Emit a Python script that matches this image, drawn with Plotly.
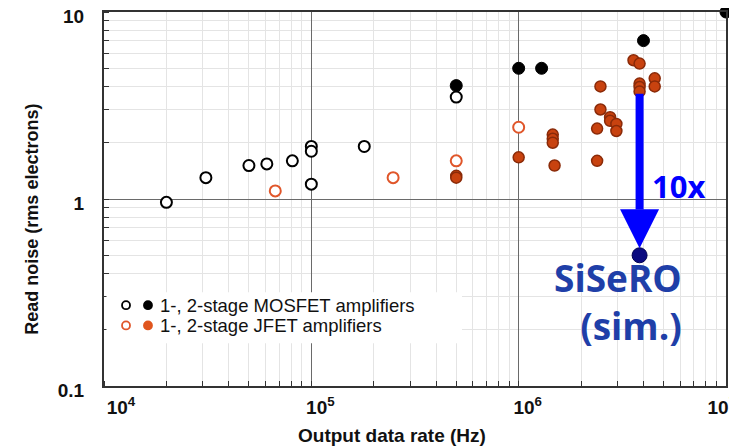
import plotly.graph_objects as go

# ---------------- data ----------------
mos_open_x = [2.0e4, 3.1e4, 5.0e4, 6.1e4, 8.1e4, 1.0e5, 1.0e5, 1.0e5, 1.8e5, 5.0e5]
mos_open_y = [0.96, 1.30, 1.51, 1.54, 1.60, 1.91, 1.80, 1.20, 1.91, 3.51]

mos_fill_x = [5.0e5, 1.0e6, 1.29e6, 4.0e6, 1.0e7]
mos_fill_y = [4.04, 5.0, 5.0, 7.03, 10.0]

jfet_open_x = [6.7e4, 2.48e5, 5.0e5, 1.0e6]
jfet_open_y = [1.105, 1.30, 1.60, 2.42]

jfet_fill_x = [5.0e5, 5.0e5, 1.0e6, 1.46e6, 1.46e6, 1.46e6, 1.49e6, 2.48e6, 2.48e6,
               2.39e6, 2.39e6, 2.76e6, 2.76e6, 2.96e6, 2.96e6, 3.58e6, 3.83e6,
               3.83e6, 3.83e6, 3.83e6, 4.53e6, 4.53e6]
jfet_fill_y = [1.33, 1.30, 1.67, 2.21, 2.10, 2.00, 1.51, 4.0, 3.01,
               2.38, 1.60, 2.74, 2.62, 2.52, 2.31, 5.52, 5.30,
               4.14, 3.97, 3.76, 4.42, 4.0]

sisero_x = [3.83e6]
sisero_y = [0.5]
arrow_top = 3.65          # start of the "10x" arrow (JFET level)
arrow_head_base = 0.88    # where the shaft meets the arrow head

NB = "\u00a0"
x_tickvals = [1e4, 1e5, 1e6, 1e7]
x_ticktext = [NB * 3 + "10<sup>4</sup>", "10<sup>5</sup>", "10<sup>6</sup>", "10<sup>7</sup>" + NB * 5]
y_tickvals = [0.1, 1, 10]
y_ticktext = ["0.1", "1", "10"]

legend_labels = ["1-, 2-stage MOSFET amplifiers", "1-, 2-stage JFET amplifiers"]

# ---------------- styles ----------------
BLACK = "#000000"
RED_OPEN = "#e0562a"
RED_FILL = "#c8420f"
RED_EDGE = "#8a2a08"
NAVY = "#0a0a80"
ARROW_BLUE = "#0000ff"
TEXT_BLUE = "#1f3fa8"
FONT = "Liberation Sans, Arial, sans-serif"
FONT2 = "Open Sans, Noto Sans, sans-serif"

fig = go.Figure()

fig.add_trace(go.Scatter(x=mos_open_x, y=mos_open_y, mode="markers",
                         marker=dict(size=11, color="white", line=dict(color=BLACK, width=2)),
                         showlegend=False))
fig.add_trace(go.Scatter(x=jfet_open_x, y=jfet_open_y, mode="markers",
                         marker=dict(size=11, color="white", line=dict(color=RED_OPEN, width=2)),
                         showlegend=False))
fig.add_trace(go.Scatter(x=jfet_fill_x, y=jfet_fill_y, mode="markers",
                         marker=dict(size=11, color=RED_FILL, line=dict(color=RED_EDGE, width=1.5)),
                         showlegend=False))
fig.add_trace(go.Scatter(x=mos_fill_x, y=mos_fill_y, mode="markers", cliponaxis=False,
                         marker=dict(size=12, color=BLACK, line=dict(color=BLACK, width=1)),
                         showlegend=False))

shapes = []
# arrow shaft
shapes.append(dict(type="line", xref="x", yref="y", x0=sisero_x[0], x1=sisero_x[0],
                   y0=arrow_top, y1=arrow_head_base, line=dict(color=ARROW_BLUE, width=8),
                   layer="above"))
# arrow head (pixel-sized, anchored at the SiSeRO point)
shapes.append(dict(type="path", xref="x", yref="y", xsizemode="pixel", ysizemode="pixel",
                   xanchor=sisero_x[0], yanchor=sisero_y[0],
                   path="M -19.5 46 L 19.5 46 L 0 7 Z",
                   fillcolor=ARROW_BLUE, line=dict(color=ARROW_BLUE, width=0), layer="above"))

# legend background
shapes.append(dict(type="rect", xref="paper", yref="paper", x0=0.004, x1=0.5756, y0=0.1144, y1=0.251,
                   fillcolor="white", line=dict(width=0), layer="above"))
leg_rows = [0.216, 0.162]
leg_styles = [
    [("white", BLACK), (BLACK, BLACK)],
    [("white", RED_OPEN), ("#e0561e", "#e0561e")],
]
leg_x = [0.0354, 0.0707]
for ry, styles in zip(leg_rows, leg_styles):
    for lx, (fc, lc) in zip(leg_x, styles):
        shapes.append(dict(type="circle", xref="paper", yref="paper",
                           xsizemode="pixel", ysizemode="pixel", xanchor=lx, yanchor=ry,
                           x0=-4, x1=4, y0=-4, y1=4, fillcolor=fc,
                           line=dict(color=lc, width=1.8), layer="above"))

fig.add_trace(go.Scatter(x=sisero_x, y=sisero_y, mode="markers",
                         marker=dict(size=15, color=NAVY, line=dict(color="#000050", width=1)),
                         showlegend=False))

annotations = []
for ry, lab in zip(leg_rows, legend_labels):
    annotations.append(dict(x=0.0868, y=ry, xref="paper", yref="paper", text=lab, showarrow=False,
                            xanchor="left", yanchor="middle", font=dict(family=FONT, size=18.5, color="#111")))

annotations.append(dict(x=0.924, y=0.535, xref="paper", yref="paper", text="<b>10x</b>", showarrow=False,
                        xanchor="center", yanchor="middle", font=dict(family=FONT2, size=31, color=ARROW_BLUE)))
annotations.append(dict(x=0.932, y=0.225, xref="paper", yref="paper", text="<b>SiSeRO<br>(sim.)</b>",
                        showarrow=False, xanchor="right", yanchor="middle", align="right",
                        font=dict(family=FONT2, size=37, color=TEXT_BLUE)))
# axis titles
annotations.append(dict(x=-0.116, y=0.447, xref="paper", yref="paper", text="<b>Read noise (rms electrons)</b>",
                        showarrow=False, textangle=-90, xanchor="center", yanchor="middle",
                        font=dict(family=FONT, size=18, color="#111")))
annotations.append(dict(x=0.463, y=-0.132, xref="paper", yref="paper", text="<b>Output data rate (Hz)</b>",
                        showarrow=False, xanchor="center", yanchor="middle",
                        font=dict(family=FONT, size=19, color="#111")))

# the page places the plot 8px in from the top-left, so margins compensate
fig.update_layout(
    width=737, height=447,
    margin=dict(l=96, r=19, t=4, b=69, autoexpand=False),
    plot_bgcolor="white", paper_bgcolor="white",
    shapes=shapes, annotations=annotations, showlegend=False,
)

fig.update_xaxes(type="log", range=[4, 7], tickmode="array", tickvals=x_tickvals, ticktext=x_ticktext,
                 ticks="", showgrid=True, gridcolor="#6a6a6a", gridwidth=1.3, automargin=False,
                 showline=True, linecolor="#333", linewidth=2, mirror=True,
                 ticklabelshift=9, ticklabelstandoff=3, ticklabeloverflow="allow",
                 tickfont=dict(family=FONT, size=19, color="#111", weight="bold"),
                 minor=dict(dtick="D1", ticks="inside", ticklen=5, tickcolor="#333", tickwidth=1,
                            showgrid=True, gridcolor="#e4e4e4", gridwidth=1),
                 zeroline=False)
fig.update_yaxes(type="log", range=[-1, 1], tickmode="array", tickvals=y_tickvals, ticktext=y_ticktext,
                 ticks="", showgrid=True, gridcolor="#6a6a6a", gridwidth=1.3, automargin=False,
                 showline=True, linecolor="#333", linewidth=2, mirror=True,
                 ticklabelstandoff=14, ticklabeloverflow="allow", ticklabelshift=4,
                 tickfont=dict(family=FONT, size=19, color="#111", weight="bold"),
                 minor=dict(dtick="D1", ticks="inside", ticklen=5, tickcolor="#333", tickwidth=1,
                            showgrid=True, gridcolor="#e4e4e4", gridwidth=1),
                 zeroline=False)

fig.write_html("out.html")
